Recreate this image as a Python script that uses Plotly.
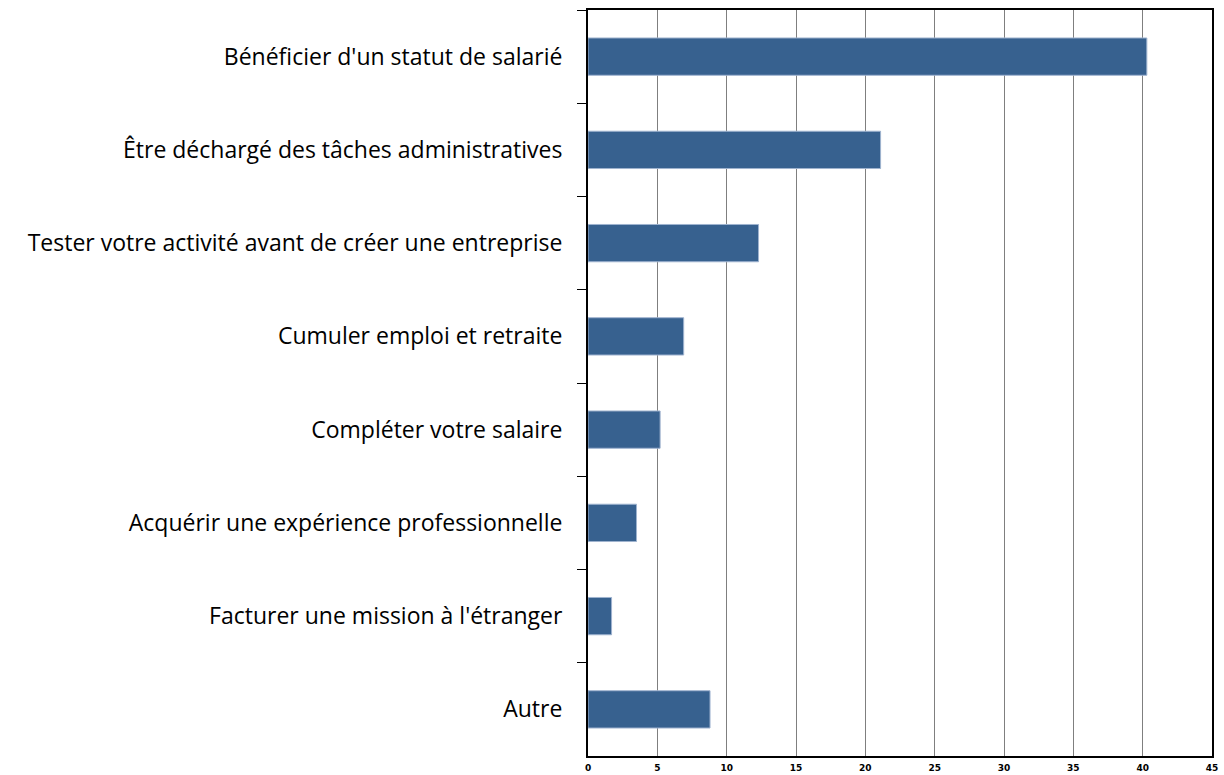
import plotly.graph_objects as go

categories = [
    "Bénéficier d'un statut de salarié",
    "Être déchargé des tâches administratives",
    "Tester votre activité avant de créer une entreprise",
    "Cumuler emploi et retraite",
    "Compléter votre salaire",
    "Acquérir une expérience professionnelle",
    "Facturer une mission à l'étranger",
    "Autre",
]
values = [40.3, 21.1, 12.3, 6.9, 5.2, 3.5, 1.7, 8.8]
x_ticks = [0, 5, 10, 15, 20, 25, 30, 35, 40, 45]

fig = go.Figure(go.Bar(
    x=values, y=categories, orientation="h",
    marker=dict(color="#37618f", line=dict(color="#9fb3cf", width=1)),
    width=0.4,
))

fig.update_layout(
    width=1224, height=775,
    margin=dict(l=588, r=12, t=10, b=19),
    paper_bgcolor="white", plot_bgcolor="white",
    showlegend=False,
    font=dict(family="Open Sans, DejaVu Sans, sans-serif", color="black"),
)
fig.update_xaxes(
    range=[0, 45], tickvals=x_ticks, ticktext=[str(v) for v in x_ticks],
    showgrid=True, gridcolor="#7f7f7f", gridwidth=1,
    showline=True, linecolor="black", linewidth=2, mirror=True,
    ticks="", tickfont=dict(size=9, family="DejaVu Sans", color="black", weight="bold"),
    ticklabelstandoff=2, zeroline=False, automargin=False,
)
fig.update_yaxes(
    categoryorder="array", categoryarray=categories, autorange="reversed",
    tickson="boundaries", ticks="outside", ticklen=9, tickcolor="black",
    showline=True, linecolor="black", linewidth=2, mirror=True,
    showgrid=False, tickfont=dict(size=23, color="black"),
    ticklabelstandoff=19, automargin=False,
)

# drop the default body margin so the figure sits at the page corner
fig.write_html("out.html", config={"displayModeBar": False},
               post_script="document.body.style.margin='0';")
